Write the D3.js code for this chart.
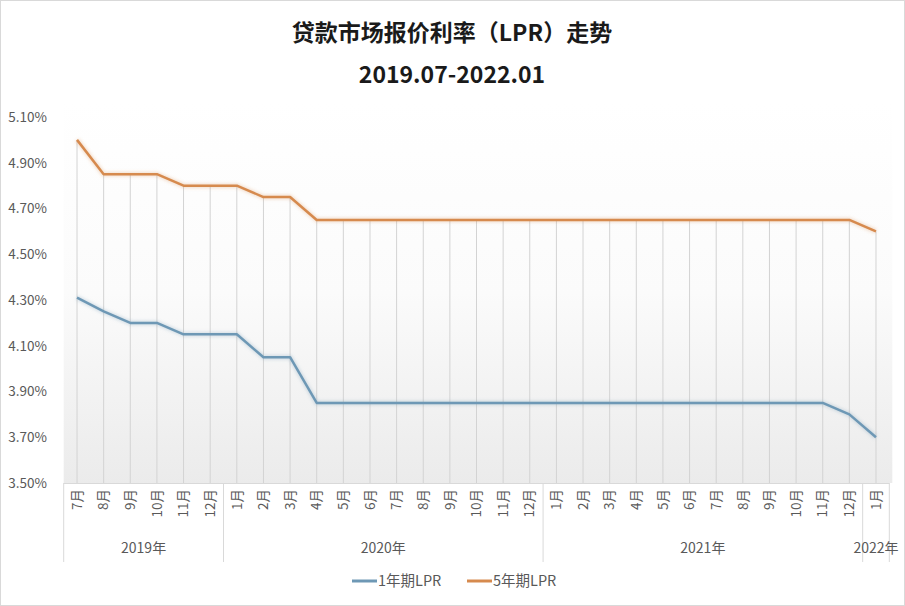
<!DOCTYPE html>
<html><head><meta charset="utf-8">
<script src="https://cdn.jsdelivr.net/npm/d3@7"></script>
<style>
html,body{margin:0;padding:0;background:#fff;}
svg{display:block;font-family:"Noto Sans CJK SC","Noto Sans",sans-serif;}
</style></head>
<body>
<svg id="chart" width="905" height="606"></svg>
<script>
const months = ["7月","8月","9月","10月","11月","12月",
  "1月","2月","3月","4月","5月","6月","7月","8月","9月","10月","11月","12月",
  "1月","2月","3月","4月","5月","6月","7月","8月","9月","10月","11月","12月",
  "1月"];
const yearGroups = [
  {label:"2019年", start:0, count:6},
  {label:"2020年", start:6, count:12},
  {label:"2021年", start:18, count:12},
  {label:"2022年", start:30, count:1}
];
const lpr1y = [4.31,4.25,4.20,4.20,4.15,4.15,
  4.15,4.05,4.05,3.85,3.85,3.85,3.85,3.85,3.85,3.85,3.85,3.85,
  3.85,3.85,3.85,3.85,3.85,3.85,3.85,3.85,3.85,3.85,3.85,3.80,
  3.70];
const lpr5y = [5.00,4.85,4.85,4.85,4.80,4.80,
  4.80,4.75,4.75,4.65,4.65,4.65,4.65,4.65,4.65,4.65,4.65,4.65,
  4.65,4.65,4.65,4.65,4.65,4.65,4.65,4.65,4.65,4.65,4.65,4.65,
  4.60];
const yTicks = [3.5,3.7,3.9,4.1,4.3,4.5,4.7,4.9,5.1];
const seriesNames = ["1年期LPR","5年期LPR"];
const seriesColors = ["#6e98b5","#d68a4e"];
const titleLines = ["贷款市场报价利率（LPR）走势","2019.07-2022.01"];

(function(){
const svg = d3.select("#chart");
const pLeft = 63.7, pRight = 889.3, pTop = 117, pBottom = 483;
const idx = d3.range(months.length);
const x = d3.scaleBand().domain(idx).range([pLeft, pRight]).padding(0);
const bw = x.bandwidth();
const cx = i => x(i) + bw/2;
const y = d3.scaleLinear().domain([3.5, 5.1]).range([pBottom, pTop]);

svg.append("rect").attr("x",0.5).attr("y",0.5).attr("width",904).attr("height",605)
  .attr("fill","#fff").attr("stroke","#d9d9d9");

const defs = svg.append("defs");
const g = defs.append("linearGradient").attr("id","bg").attr("x1",0).attr("y1",0).attr("x2",0).attr("y2",1);
g.append("stop").attr("offset","0%").attr("stop-color","#ffffff");
g.append("stop").attr("offset","50%").attr("stop-color","#fbfbfb");
g.append("stop").attr("offset","100%").attr("stop-color","#ebebeb");
const blur = defs.append("filter").attr("id","glow").attr("x","-5%").attr("y","-20%").attr("width","110%").attr("height","140%");
blur.append("feGaussianBlur").attr("stdDeviation",1.5);

svg.append("rect").attr("x",pLeft).attr("y",y(5.1)-15).attr("width",pRight-pLeft+3)
  .attr("height",pBottom-(y(5.1)-15)).attr("fill","url(#bg)");

svg.selectAll("text.title").data(titleLines).join("text").attr("class","title")
  .attr("x",452).attr("y",(d,i)=> i===0 ? 41 : 83)
  .attr("text-anchor","middle").attr("font-size",23).attr("font-weight","bold")
  .attr("fill","#1a1a1a").text(d=>d);

const yAxis = d3.axisLeft(y).tickValues(yTicks).tickSize(0).tickPadding(0)
  .tickFormat(d => d3.format(".2f")(d) + "%");
const ya = svg.append("g").attr("transform",`translate(47,0)`).call(yAxis);
ya.select(".domain").remove();
ya.selectAll("text").attr("font-size",13.5).attr("fill","#595959")
  .attr("font-family","'Noto Sans CJK SC','Noto Sans',sans-serif");

svg.append("g").selectAll("line").data(idx).join("line")
  .attr("x1",i=>cx(i)).attr("x2",i=>cx(i))
  .attr("y1",i=>y(Math.max(lpr1y[i],lpr5y[i]))).attr("y2",pBottom)
  .attr("stroke","#d3d3d3").attr("stroke-width",1);

svg.append("line").attr("x1",pLeft).attr("x2",pRight).attr("y1",pBottom+0.5).attr("y2",pBottom+0.5)
  .attr("stroke","#d9d9d9");

const xAxis = d3.axisBottom(x).tickSize(0).tickPadding(0).tickFormat(i=>months[i]);
const xa = svg.append("g").attr("transform",`translate(0,${pBottom})`).call(xAxis);
xa.select(".domain").remove();
xa.selectAll(".tick text")
  .attr("transform","translate(0,6) rotate(-90)")
  .attr("text-anchor","end").attr("dy","0.35em").attr("x",0).attr("y",0)
  .attr("font-size",13.5).attr("fill","#595959")
  .attr("font-family","'Noto Sans CJK SC','Noto Sans',sans-serif");

const seps = yearGroups.map(gp=>gp.start).concat([months.length]);
svg.append("g").selectAll("line").data(seps).join("line")
  .attr("x1",i=> i<months.length ? x(i) : pRight).attr("x2",i=> i<months.length ? x(i) : pRight)
  .attr("y1",pBottom).attr("y2",562).attr("stroke","#d9d9d9");
svg.append("g").selectAll("text").data(yearGroups).join("text")
  .attr("x",gp=> (x(gp.start) + x(gp.start+gp.count-1)+bw)/2).attr("y",553)
  .attr("text-anchor","middle").attr("font-size",14).attr("fill","#595959").text(gp=>gp.label);

const line = d3.line().x((d,i)=>cx(i)).y(d=>y(d));
[lpr1y, lpr5y].forEach((s,k)=>{
  svg.append("path").datum(s).attr("d",line).attr("fill","none")
    .attr("stroke",seriesColors[k]).attr("stroke-width",5).attr("stroke-opacity",0.25)
    .attr("filter","url(#glow)");
  svg.append("path").datum(s).attr("d",line).attr("fill","none")
    .attr("stroke",seriesColors[k]).attr("stroke-width",2.5).attr("stroke-linejoin","round");
});

const legendX = [352, 467];
const lg = svg.append("g").selectAll("g").data(seriesNames).join("g")
  .attr("transform",(d,i)=>`translate(${legendX[i]},581)`);
lg.append("line").attr("x1",0).attr("x2",25).attr("y1",0).attr("y2",0)
  .attr("stroke",(d,i)=>seriesColors[i]).attr("stroke-width",3);
lg.append("text").attr("x",26).attr("y",0).attr("dy","0.35em").attr("font-size",14.5)
  .attr("fill","#595959").text(d=>d);
})();
</script>
</body></html>
